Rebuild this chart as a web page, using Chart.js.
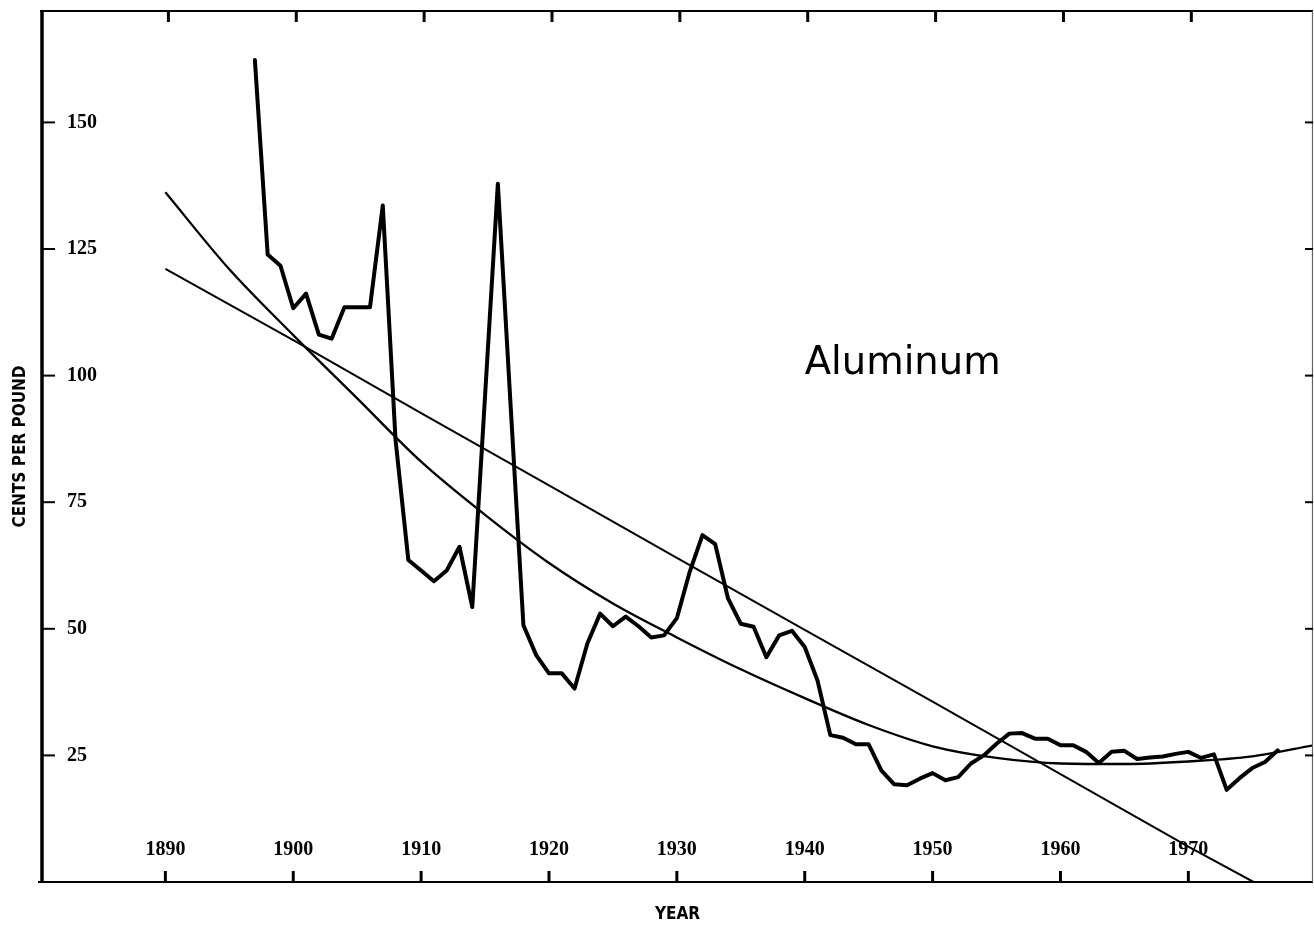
<!DOCTYPE html>
<html>
<head>
<meta charset="utf-8">
<script src="https://cdn.jsdelivr.net/npm/chart.js@4.4.1/dist/chart.umd.min.js"></script>
<style>
html,body{margin:0;padding:0;background:#ffffff;}
#wrap{position:relative;width:1314px;height:928px;}
</style>
</head>
<body>
<div id="wrap"><canvas id="c" width="1314" height="928"></canvas></div>
<script>
// ---- data ----
const years = [1897,1898,1899,1900,1901,1902,1903,1904,1905,1906,1907,1908,1909,1910,1911,1912,1913,1914,1915,1916,1917,1918,1919,1920,1921,1922,1923,1924,1925,1926,1927,1928,1929,1930,1931,1932,1933,1934,1935,1936,1937,1938,1939,1940,1941,1942,1943,1944,1945,1946,1947,1948,1949,1950,1951,1952,1953,1954,1955,1956,1957,1958,1959,1960,1961,1962,1963,1964,1965,1966,1967,1968,1969,1970,1971,1972,1973,1974,1975,1976,1977];
const prices = [162.3,123.9,121.7,113.3,116.2,108.1,107.3,113.5,113.5,113.5,133.6,87.3,63.6,61.5,59.4,61.5,66.2,54.3,96,137.9,94,50.7,44.8,41.2,41.2,38.2,47.1,53.0,50.5,52.4,50.5,48.3,48.7,52.1,61.2,68.5,66.7,56.0,51.0,50.4,44.4,48.7,49.6,46.4,39.8,29.0,28.5,27.2,27.2,22.0,19.3,19.1,20.4,21.5,20.1,20.7,23.4,25.0,27.3,29.3,29.4,28.3,28.3,27.0,27.0,25.7,23.5,25.7,25.9,24.3,24.6,24.8,25.3,25.7,24.5,25.2,18.2,20.5,22.5,23.7,26.0];

const lineYears  = [1890,1900,1910,1920,1930,1940,1950,1960,1970,1975.1];
const lineValues = [121.1,107.0,92.6,78.3,64.0,49.8,35.6,21.3,7.0,0];

const curveYears  = [1890,1895,1900,1905,1910,1915,1920,1925,1930,1935,1940,1945,1950,1955,1960,1965,1970,1975,1979.8];
const curveValues = [136.2,121.0,108.0,95.5,83.0,72.5,63.0,55.0,48.3,42.0,36.3,31.0,26.8,24.5,23.4,23.3,23.8,24.8,27.0];

const xTickValues = [1890,1900,1910,1920,1930,1940,1950,1960,1970];
const xTickLabels = ['1890','1900','1910','1920','1930','1940','1950','1960','1970'];
const yTickValues = [25,50,75,100,125,150];
const yTickLabels = ['25','50','75','100','125','150'];

const seriesName = 'Aluminum';
const xTitle = 'YEAR';
const yTitle = 'CENTS PER POUND';
const annotationAt = [1940, 100];

// ---- build ----
const pts = (xs, ys) => xs.map((x, i) => ({x: x, y: ys[i]}));
const tickFontCss = 'bold 20px "Liberation Serif", serif';

const frameTicks = {
  id: 'frameTicks',
  afterDatasetsDraw(chart) {
    const ctx = chart.ctx;
    const {left, right, top, bottom} = chart.chartArea;
    const xs = chart.scales.x, ys = chart.scales.y;
    ctx.save();
    ctx.strokeStyle = '#000';
    ctx.lineCap = 'butt';
    // frame
    ctx.lineWidth = 3.5;
    ctx.beginPath(); ctx.moveTo(left, top - 1); ctx.lineTo(left, bottom + 1); ctx.stroke();
    ctx.lineWidth = 2;
    ctx.beginPath(); ctx.moveTo(left - 2, top); ctx.lineTo(right, top); ctx.stroke();
    ctx.beginPath(); ctx.moveTo(left - 4, bottom); ctx.lineTo(right, bottom); ctx.stroke();
    ctx.strokeStyle = '#666';
    ctx.lineWidth = 1.2;
    ctx.beginPath(); ctx.moveTo(right - 0.5, top); ctx.lineTo(right - 0.5, bottom); ctx.stroke();
    ctx.strokeStyle = '#000';
    // x ticks + labels
    ctx.lineWidth = 3;
    ctx.fillStyle = '#000';
    ctx.font = tickFontCss;
    ctx.textAlign = 'center';
    ctx.textBaseline = 'middle';
    xTickValues.forEach((v, i) => {
      const px = xs.getPixelForValue(v);
      ctx.beginPath(); ctx.moveTo(px, bottom); ctx.lineTo(px, bottom - 11); ctx.stroke();
      ctx.beginPath(); ctx.moveTo(px + 3, top); ctx.lineTo(px + 3, top + 11); ctx.stroke();
      ctx.fillText(xTickLabels[i], px, bottom - 32);
    });
    // y ticks
    ctx.lineWidth = 2;
    yTickValues.forEach(v => {
      const py = ys.getPixelForValue(v);
      ctx.beginPath(); ctx.moveTo(left, py); ctx.lineTo(left + 13, py); ctx.stroke();
      ctx.beginPath(); ctx.moveTo(right, py); ctx.lineTo(right - 8, py); ctx.stroke();
    });
    // annotation
    ctx.font = '38.5px "DejaVu Sans", sans-serif';
    ctx.textAlign = 'left';
    ctx.textBaseline = 'alphabetic';
    ctx.fillText(seriesName, xs.getPixelForValue(annotationAt[0]), ys.getPixelForValue(annotationAt[1]) - 2);
    ctx.restore();
  }
};

const tickFont = {family: '"Liberation Serif", serif', size: 20, weight: 'bold'};
const titleFont = {family: '"DejaVu Sans Condensed", "DejaVu Sans", sans-serif', size: 17, weight: 'bold'};

new Chart(document.getElementById('c'), {
  type: 'line',
  data: {
    datasets: [
      {
        label: seriesName,
        data: pts(years, prices),
        borderColor: '#000',
        borderWidth: 4,
        borderJoinStyle: 'round',
        borderCapStyle: 'round',
        pointRadius: 0,
        tension: 0,
        fill: false
      },
      {
        label: 'linear trend',
        data: pts(lineYears, lineValues),
        borderColor: '#000',
        borderWidth: 2,
        pointRadius: 0,
        tension: 0,
        fill: false
      },
      {
        label: 'quadratic trend',
        data: pts(curveYears, curveValues),
        borderColor: '#000',
        borderWidth: 2.3,
        pointRadius: 0,
        cubicInterpolationMode: 'monotone',
        fill: false
      }
    ]
  },
  options: {
    responsive: false,
    animation: false,
    devicePixelRatio: 1,
    layout: {padding: {top: 11, right: 1, left: 0, bottom: 0}},
    plugins: {legend: {display: false}, tooltip: {enabled: false}},
    scales: {
      x: {
        type: 'linear',
        min: 1880.35,
        max: 1979.75,
        grid: {display: false, drawTicks: false},
        border: {display: false},
        afterFit: s => { s.height = 46; s.paddingLeft = 0; s.paddingRight = 0; },
        afterBuildTicks: s => { s.ticks = xTickValues.map(v => ({value: v})); },
        ticks: {display: false},
        title: {display: true, text: xTitle, color: '#000', font: titleFont, padding: {top: 0, bottom: 3}}
      },
      y: {
        type: 'linear',
        min: 0,
        max: 172,
        grid: {display: false, drawTicks: false},
        border: {display: false},
        afterFit: s => { s.width = 42; s.paddingTop = 0; s.paddingBottom = 0; },
        afterBuildTicks: s => { s.ticks = yTickValues.map(v => ({value: v})); },
        ticks: {
          mirror: true,
          padding: 25,
          color: '#000',
          font: tickFont,
          callback: (v) => { const i = yTickValues.indexOf(v); return i >= 0 ? yTickLabels[i] : ''; }
        },
        title: {display: true, text: yTitle, color: '#000', font: titleFont, padding: {top: 10, bottom: 0}}
      }
    }
  },
  plugins: [frameTicks]
});
</script>
</body>
</html>
